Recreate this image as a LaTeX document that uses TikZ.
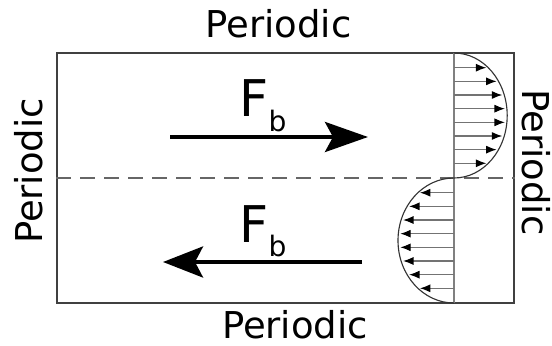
\documentclass[tikz,border=0pt]{standalone}
\usepackage{fontspec}
\setmainfont{DejaVu Sans}
\usetikzlibrary{arrows.meta}

\begin{document}
\begin{tikzpicture}[
    wall/.style={draw=black!75, line width=0.9pt},
    bclabel/.style={font=\fontsize{26.3}{28}\selectfont, inner sep=0pt},
    force/.style={line width=2.8pt},
    flabel/.style={anchor=base west, inner sep=0pt, font=\fontsize{36}{38}\selectfont},
    velo/.style={draw=black!55, line width=0.8pt, -{Latex[black,length=2.6mm,width=2mm]}}
]
    \useasboundingbox (0,0) rectangle (13.8,8.625);

    % channel
    \node[wall, minimum width=11.425cm, minimum height=6.25cm, inner sep=0pt] (domain) at (7.1375,4.175) {};
    \draw[draw=black!60, line width=0.8pt, dash pattern=on 0.375cm off 0.225cm] (domain.west) -- (domain.east);

    % boundary conditions
    \node[bclabel, anchor=base] (top) at (6.96,7.675) {Periodic};
    \node[bclabel, anchor=base] (bottom) at (7.375,0.175) {Periodic};
    \node[bclabel, anchor=base, rotate=90] (left) at (1.05,4.35) {Periodic};
    \node[bclabel, anchor=base, rotate=-90] (right) at (13.06,4.56) {Periodic};

    % body force
    \coordinate (Fa) at (4.25,5.2);
    \coordinate (Fb) at (9.2,5.2);
    \coordinate (Fc) at (9.05,2.075);
    \coordinate (Fd) at (4.075,2.075);
    \draw[force, -{Stealth[length=10.75mm, width=7.5mm, inset=2mm]}] (Fa) -- (Fb);
    \draw[force, -{Stealth[length=10mm, width=7.75mm, inset=2mm]}] (Fc) -- (Fd);
    \node[flabel] (Ftop) at (5.98,5.7) {F\raisebox{-0.37cm}{\fontsize{20}{20}\selectfont b}};
    \node[flabel] (Fbot) at (5.98,2.575) {F\raisebox{-0.37cm}{\fontsize{20}{20}\selectfont b}};

    % velocity profile
    \coordinate (axtop) at (11.35,7.3);
    \coordinate (axmid) at (11.35,4.175);
    \coordinate (axbot) at (11.35,1.05);
    \draw[draw=black!50, line width=0.8pt] (axtop) -- (axbot);

    \foreach \k in {-3.5,-2.5,...,3.5} {
        \pgfmathsetmacro\dy{\k*0.3415}
        \pgfmathsetmacro\ur{1.33*sqrt(1-(\dy/1.5625)^2)-0.05}
        \pgfmathsetmacro\ul{1.4*sqrt(1-(\dy/1.5625)^2)-0.05}
        \draw[velo] (11.35,5.7375+\dy) -- ++(\ur,0);
        \draw[velo] (11.35,2.6125+\dy) -- ++(-\ul,0);
    }

    \draw[draw=black!80, line width=0.8pt] (axtop) arc[start angle=90, end angle=-90, x radius=1.33, y radius=1.5625]
        arc[start angle=90, end angle=270, x radius=1.4, y radius=1.5625];

\end{tikzpicture}
\end{document}
